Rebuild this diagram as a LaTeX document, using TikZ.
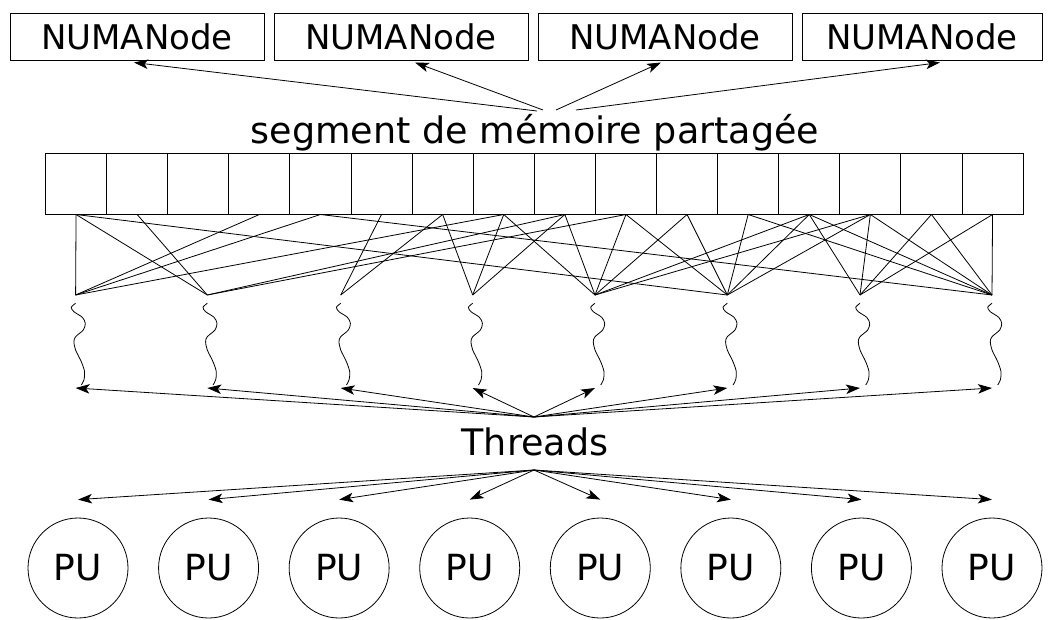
\documentclass[tikz,border=0pt]{standalone}
\usepackage{fontspec}
\setmainfont{DejaVu Sans}
\usetikzlibrary{arrows.meta,calc}
\begin{document}
\begin{tikzpicture}[x=1pt,y=-1pt,
  lbl/.style={font=\fontsize{36.5}{44}\selectfont, inner sep=0pt},
  numabox/.style={draw, line width=1pt, minimum width=254pt, minimum height=47pt, inner sep=0pt, font=\fontsize{34}{41}\selectfont},
  cell/.style={draw, line width=1pt, minimum width=61.1pt, minimum height=61pt, inner sep=0pt, anchor=north west},
  pu/.style={draw, circle, line width=0.8pt, minimum size=100pt, inner sep=0pt, font=\fontsize{36}{42}\selectfont},
  link/.style={line width=0.8pt},
  arr/.style={line width=0.8pt, -{Stealth[length=14pt, width=9.5pt, inset=3.5pt]}},
  wave/.style={line width=0.8pt}
]
\useasboundingbox (0,0) rectangle (1051,619);
% NUMA nodes
\node[numabox] (n1) at (137,36.5) {NUMANode};
\node[numabox] (n2) at (401,36.5) {NUMANode};
\node[numabox] (n3) at (665,36.5) {NUMANode};
\node[numabox, minimum width=240pt] (n4) at (922,36.5) {NUMANode};
% segment label
\node[lbl, anchor=base] (seg) at (535,143) {segment de mémoire partagée};
\coordinate (s1) at (537,111);
\coordinate (s2) at (543,110);
\coordinate (s3) at (556,110);
\coordinate (s4) at (576,110);
\draw[arr] (s1) -- ($(n1.south)+(-3,2)$);
\draw[arr] (s2) -- ($(n2.south)+(14,2)$);
\draw[arr] (s3) -- ($(n3.south)+(-4,2)$);
\draw[arr] (s4) -- ($(n4.south)+(18,2)$);
% cells
\foreach \i in {0,...,15} \node[cell] (c\i) at (45+61.1*\i,152.5) {};
% threads
\foreach \i/\x in {1/75.6,2/207.3,3/340.7,4/472.7,5/595,6/727.3,7/860,8/992}{
  \coordinate (t\i) at (\x,295);
  \draw[wave] plot[smooth] coordinates {(\x,303.3) (\x-4.3,307.3) (\x-1.7,311.7) (\x+6.7,317.3) (\x+9.7,323.3) (\x+7.7,330) (\x,336.7) (\x-1.7,341.7) (\x,350) (\x+5.7,361.7) (\x+9,371.7) (\x+8.3,380) (\x+5.7,385)};
  \coordinate (w\i) at (\x,388);
}
% links cell -> thread
\foreach \t/\cl in {1/{0,3,4,7},2/{0,1,8,9},3/{5,6},4/{6,7,8},5/{7,8,9,10,12,13},6/{0,9,10,11,12,13},7/{12,13,14,15},8/{4,11,12,13,14,15}}{
  \foreach \c in \cl { \draw[link] (c\c.south) -- (t\t); }
}
% Threads
\node[lbl, anchor=base] (thr) at (535,455) {Threads};
\coordinate (thrtop) at (534,417);
\coordinate (thrbot) at (534,470);
\foreach \i in {1,...,8} \draw[arr] (thrtop) -- (w\i);
% PUs
\foreach \i in {1,...,8} {
  \node[pu] (pu\i) at (78+130.57*\i-130.57,568) {PU};
  \draw[arr] (thrbot) -- ($(pu\i.north)+(0,-18)$);
}
\end{tikzpicture}
\end{document}
